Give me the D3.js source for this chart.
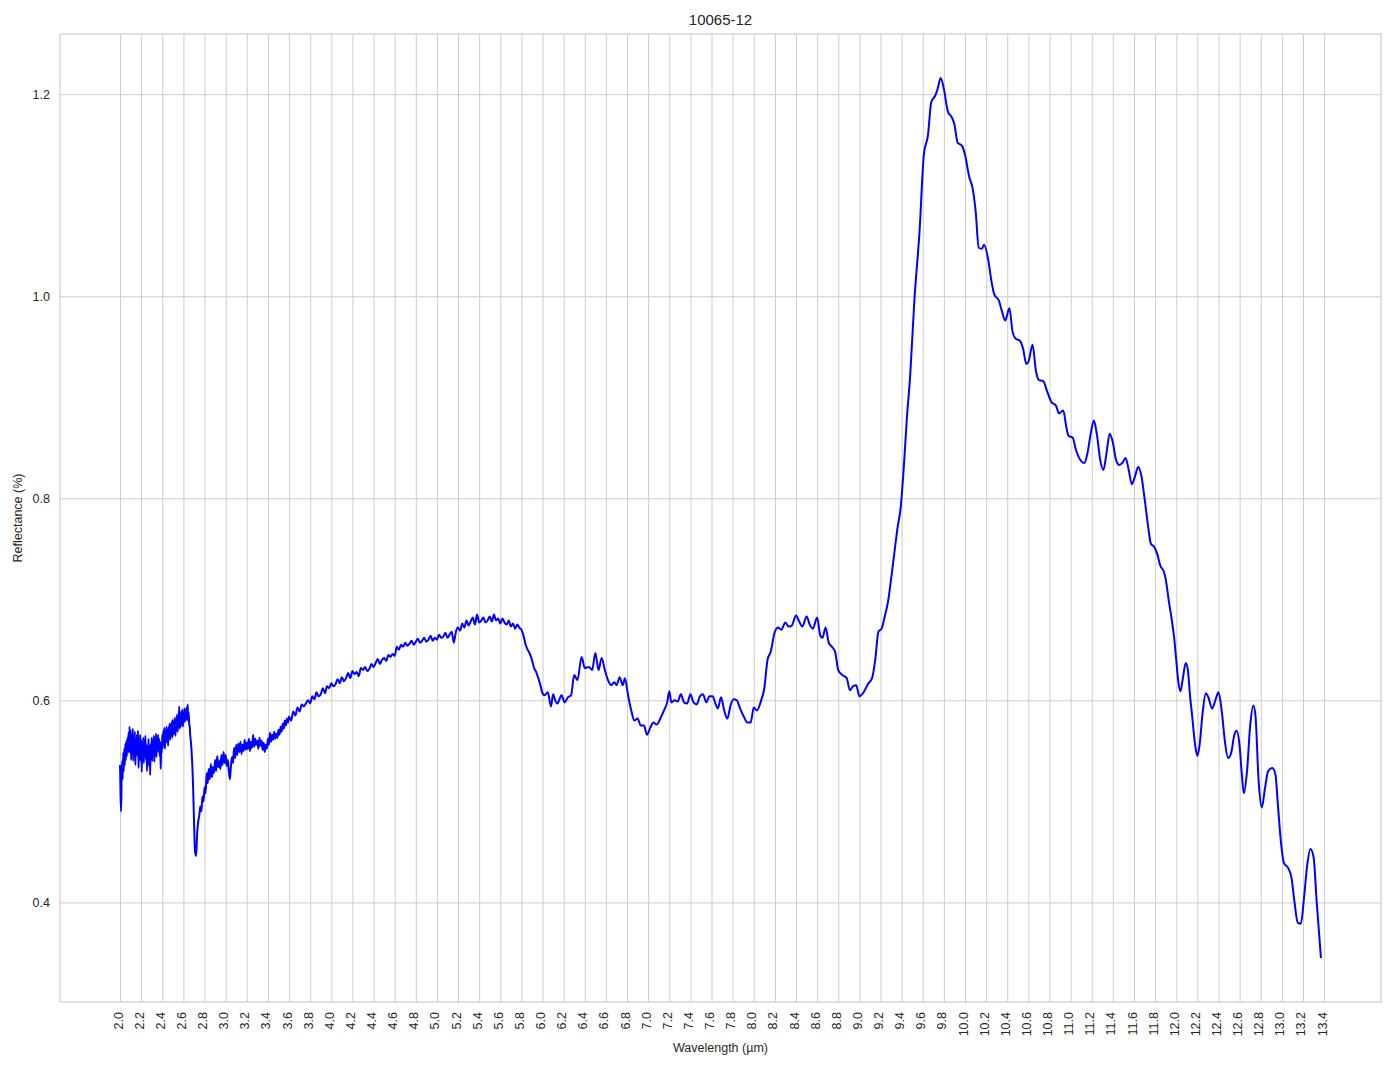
<!DOCTYPE html>
<html>
<head>
<meta charset="utf-8">
<script src="https://cdn.jsdelivr.net/npm/d3@7"></script>
<style>
  html, body { margin: 0; padding: 0; background: #ffffff; }
  svg { display: block; font-family: "Liberation Sans", Arial, "DejaVu Sans", sans-serif; }
</style>
</head>
<body>
<svg id="chart" width="1394" height="1069"></svg>
<script>
// ---- data: [wavelength µm, reflectance] ----
const title = "10065-12";
const xLabel = "Wavelength (µm)";
const yLabel = "Reflectance (%)";

const spectrumNearIR = [
  [2.000,0.536],[2.005,0.505],[2.010,0.490],[2.015,0.525],[2.020,0.540],[2.025,0.522],[2.030,0.548],[2.035,0.530],[2.040,0.552],[2.045,0.536],
  [2.050,0.557],[2.055,0.541],[2.060,0.560],[2.065,0.545],[2.070,0.563],[2.075,0.550],[2.080,0.568],[2.085,0.548],[2.090,0.574],[2.095,0.552],
  [2.100,0.570],[2.105,0.541],[2.110,0.566],[2.115,0.549],[2.120,0.572],[2.125,0.540],[2.130,0.563],[2.135,0.552],[2.140,0.569],[2.145,0.536],
  [2.150,0.560],[2.155,0.545],[2.160,0.566],[2.165,0.548],[2.170,0.570],[2.175,0.533],[2.180,0.558],[2.185,0.547],[2.190,0.566],[2.195,0.540],
  [2.200,0.561],[2.205,0.529],[2.210,0.555],[2.215,0.546],[2.220,0.563],[2.225,0.538],[2.230,0.560],[2.235,0.549],[2.240,0.565],[2.245,0.541],
  [2.250,0.556],[2.255,0.530],[2.260,0.552],[2.265,0.543],[2.270,0.562],[2.275,0.535],[2.280,0.554],[2.285,0.526],[2.290,0.557],[2.295,0.546],
  [2.300,0.563],[2.305,0.540],[2.310,0.558],[2.315,0.548],[2.320,0.565],[2.325,0.539],[2.330,0.560],[2.335,0.551],[2.340,0.567],[2.345,0.544],
  [2.350,0.563],[2.355,0.552],[2.360,0.566],[2.365,0.549],[2.370,0.562],[2.375,0.545],[2.380,0.559],[2.385,0.532],[2.390,0.555],[2.395,0.548],
  [2.400,0.566],[2.405,0.553],[2.410,0.570],[2.415,0.556],[2.420,0.573],[2.425,0.552],[2.430,0.569],[2.435,0.558],[2.440,0.574],[2.445,0.560],
  [2.450,0.571],[2.455,0.555],[2.460,0.574],[2.465,0.562],[2.470,0.577],[2.475,0.561],[2.480,0.576],[2.485,0.565],[2.490,0.579],[2.495,0.563],
  [2.500,0.581],[2.505,0.566],[2.510,0.578],[2.515,0.568],[2.520,0.583],[2.525,0.565],[2.530,0.580],[2.535,0.571],[2.540,0.586],[2.545,0.569],
  [2.550,0.582],[2.555,0.575],[2.560,0.594],[2.565,0.572],[2.570,0.586],[2.575,0.574],[2.580,0.589],[2.585,0.576],[2.590,0.591],[2.595,0.574],
  [2.600,0.588],[2.605,0.578],[2.610,0.592],[2.615,0.579],[2.620,0.590],[2.625,0.581],[2.630,0.593],[2.635,0.580],[2.640,0.596],[2.645,0.582],
  [2.650,0.588],[2.655,0.576],[2.660,0.574],[2.665,0.565],[2.670,0.560],[2.680,0.545],[2.690,0.520],[2.700,0.482],[2.710,0.450],[2.720,0.446],
  [2.73,0.468],[2.74,0.480],[2.75,0.486],[2.76,0.495],[2.77,0.490],[2.78,0.505],[2.79,0.500],[2.80,0.514],[2.81,0.508],[2.82,0.528],
  [2.83,0.518],[2.84,0.532],[2.85,0.522],[2.86,0.537],[2.87,0.524],[2.88,0.534],[2.89,0.528],[2.90,0.541],[2.91,0.530],[2.92,0.545],
  [2.93,0.534],[2.94,0.540],[2.95,0.532],[2.96,0.546],[2.97,0.536],[2.98,0.549],[2.99,0.538],[3.00,0.546],[3.01,0.535],[3.02,0.541],
  [3.03,0.530],[3.04,0.522],[3.05,0.535],[3.06,0.544],[3.07,0.538],[3.08,0.553],[3.09,0.543],[3.10,0.556],[3.11,0.546],[3.12,0.557],
  [3.13,0.549],[3.14,0.559],[3.15,0.547],[3.16,0.556],[3.17,0.550],[3.18,0.561],[3.19,0.551],[3.20,0.558],[3.21,0.552],[3.22,0.562],
  [3.23,0.550],[3.24,0.559],[3.25,0.553],[3.26,0.566],[3.27,0.554],[3.28,0.562],[3.29,0.556],[3.30,0.560],[3.31,0.552],[3.32,0.563],
  [3.33,0.555],[3.34,0.560],[3.35,0.551],[3.36,0.558],[3.37,0.549],[3.38,0.556],[3.39,0.552],[3.40,0.562],[3.41,0.556],[3.42,0.568],
  [3.43,0.559],[3.44,0.566],[3.45,0.561],[3.46,0.569],[3.47,0.562],[3.48,0.567],[3.49,0.563],[3.50,0.571],[3.51,0.566],[3.52,0.574],
  [3.53,0.569],[3.54,0.577],[3.55,0.572],[3.56,0.580],[3.57,0.575],[3.58,0.582],[3.59,0.578],[3.60,0.584],
  [3.62,0.580],[3.64,0.589],[3.66,0.585],[3.68,0.593],[3.70,0.589],[3.72,0.596],[3.74,0.594],[3.76,0.597],[3.78,0.600],[3.80,0.597],
  [3.82,0.604],[3.84,0.601],[3.86,0.608],[3.88,0.604],[3.90,0.606],[3.92,0.612],[3.94,0.607],[3.96,0.614],[3.98,0.612],[4.00,0.617]
];

const spectrumMidIR = [
  [4.02,0.614],[4.04,0.616],[4.06,0.621],[4.08,0.617],[4.10,0.623],[4.12,0.619],[4.14,0.622],[4.16,0.627],[4.18,0.622],[4.20,0.629],
  [4.22,0.626],[4.24,0.628],[4.26,0.624],[4.28,0.632],[4.30,0.630],[4.32,0.633],[4.34,0.629],[4.36,0.631],[4.38,0.636],[4.40,0.633],
  [4.42,0.637],[4.44,0.641],[4.46,0.636],[4.48,0.640],[4.50,0.642],[4.52,0.639],[4.54,0.645],[4.56,0.643],[4.58,0.646],[4.60,0.644],
  [4.62,0.653],[4.64,0.650],[4.66,0.655],[4.68,0.653],[4.70,0.657],[4.72,0.654],[4.74,0.656],[4.76,0.659],[4.78,0.655],[4.80,0.658],
  [4.82,0.661],[4.84,0.657],[4.86,0.659],[4.88,0.662],[4.90,0.658],[4.92,0.660],[4.94,0.664],[4.96,0.659],[4.98,0.662],[5.00,0.660],
  [5.02,0.665],[5.04,0.662],[5.06,0.663],[5.08,0.667],[5.10,0.662],[5.12,0.665],[5.14,0.668],[5.16,0.657],[5.18,0.668],[5.20,0.672],
  [5.22,0.669],[5.24,0.676],[5.26,0.672],[5.28,0.679],[5.30,0.674],[5.32,0.678],[5.34,0.682],[5.36,0.675],[5.38,0.685],[5.40,0.677],
  [5.42,0.679],[5.44,0.682],[5.46,0.677],[5.48,0.679],[5.50,0.683],[5.52,0.678],[5.54,0.685],[5.56,0.679],[5.58,0.681],[5.60,0.676],
  [5.62,0.681],[5.64,0.677],[5.66,0.675],[5.68,0.679],[5.70,0.673],[5.72,0.676],[5.74,0.671],[5.76,0.675],[5.78,0.672],[5.80,0.670],
  [5.82,0.664],[5.84,0.655],[5.86,0.650],[5.88,0.646],[5.90,0.640],[5.92,0.632],[5.94,0.628],[5.96,0.622],[5.98,0.615],[6.00,0.607]
];

const spectrumThermalIR = [
  [6.02,0.605],[6.05,0.608],[6.08,0.594],[6.10,0.606],[6.12,0.600],[6.14,0.597],[6.18,0.605],[6.21,0.598],[6.24,0.603],[6.27,0.605],
  [6.30,0.625],[6.33,0.620],[6.37,0.643],[6.40,0.632],[6.44,0.633],[6.47,0.630],[6.50,0.647],[6.53,0.630],[6.56,0.642],[6.59,0.630],
  [6.62,0.620],[6.65,0.615],[6.68,0.618],[6.70,0.615],[6.73,0.623],[6.76,0.615],[6.78,0.622],[6.81,0.605],[6.84,0.590],[6.87,0.580],
  [6.90,0.582],[6.93,0.575],[6.96,0.575],[6.99,0.566],[7.02,0.573],[7.05,0.578],[7.08,0.576],[7.12,0.583],[7.15,0.590],[7.18,0.598],
  [7.20,0.609],[7.22,0.598],[7.25,0.600],[7.28,0.599],[7.31,0.606],[7.34,0.598],[7.37,0.597],[7.40,0.606],[7.43,0.598],[7.46,0.596],
  [7.49,0.604],[7.52,0.606],[7.55,0.598],[7.58,0.604],[7.61,0.604],[7.64,0.596],[7.66,0.592],[7.69,0.603],[7.72,0.590],[7.75,0.582],
  [7.78,0.595],[7.81,0.601],[7.84,0.600],[7.87,0.592],[7.91,0.583],[7.94,0.578],[7.97,0.578],[8.00,0.593],[8.03,0.590],[8.07,0.600],
  [8.10,0.612],[8.13,0.640],[8.16,0.648],[8.20,0.668],[8.23,0.672],[8.26,0.670],[8.30,0.677],[8.33,0.673],[8.36,0.674],[8.40,0.684],
  [8.43,0.678],[8.46,0.673],[8.50,0.683],[8.53,0.675],[8.56,0.671],[8.60,0.682],[8.63,0.664],[8.65,0.662],[8.68,0.672],[8.71,0.657],
  [8.74,0.653],[8.77,0.648],[8.80,0.630],[8.84,0.625],[8.88,0.622],[8.91,0.610],[8.94,0.614],[8.97,0.615],[9.00,0.604],[9.04,0.608],
  [9.08,0.616],[9.12,0.622],[9.15,0.640],[9.18,0.668],[9.21,0.671],[9.24,0.683],[9.27,0.697],[9.30,0.720],[9.33,0.745],[9.36,0.770],
  [9.39,0.790],[9.42,0.830],[9.45,0.880],[9.48,0.920],[9.52,0.995],[9.57,1.065],[9.61,1.140],[9.65,1.160],[9.68,1.192],[9.72,1.199],
  [9.74,1.205],[9.77,1.216],[9.80,1.205],[9.84,1.182],[9.87,1.178],[9.90,1.170],[9.93,1.152],[9.97,1.149],[10.00,1.140],[10.04,1.118],
  [10.07,1.108],[10.10,1.085],[10.13,1.048],[10.16,1.047],[10.18,1.051],[10.22,1.036],[10.25,1.015],[10.28,1.001],[10.32,0.996],[10.35,0.985],
  [10.38,0.976],[10.42,0.988],[10.45,0.965],[10.48,0.958],[10.52,0.956],[10.55,0.948],[10.58,0.933],[10.60,0.935],[10.64,0.952],[10.67,0.927],
  [10.70,0.917],[10.74,0.916],[10.78,0.905],[10.82,0.895],[10.86,0.892],[10.89,0.884],[10.93,0.887],[10.96,0.870],[10.98,0.862],[11.02,0.860],
  [11.05,0.848],[11.08,0.840],[11.13,0.835],[11.16,0.845],[11.19,0.864],[11.22,0.877],[11.25,0.862],[11.28,0.838],[11.31,0.828],[11.34,0.845],
  [11.37,0.864],[11.40,0.855],[11.43,0.838],[11.46,0.833],[11.49,0.835],[11.52,0.840],[11.55,0.828],[11.58,0.814],[11.61,0.822],[11.64,0.831],
  [11.67,0.822],[11.70,0.800],[11.73,0.775],[11.76,0.755],[11.79,0.752],[11.82,0.745],[11.85,0.733],[11.88,0.728],[11.90,0.720],[11.93,0.698],
  [11.96,0.678],[11.98,0.662],[12.00,0.640],[12.02,0.618],[12.04,0.609],[12.06,0.620],[12.09,0.637],[12.11,0.630],[12.13,0.605],[12.15,0.585],
  [12.18,0.555],[12.20,0.545],[12.22,0.555],[12.25,0.588],[12.28,0.607],[12.30,0.604],[12.34,0.592],[12.37,0.600],[12.40,0.608],[12.43,0.590],
  [12.46,0.560],[12.49,0.543],[12.52,0.548],[12.55,0.566],[12.57,0.570],[12.60,0.555],[12.62,0.528],[12.64,0.508],[12.67,0.530],[12.70,0.575],
  [12.73,0.595],[12.75,0.585],[12.78,0.520],[12.81,0.494],[12.84,0.513],[12.87,0.530],[12.91,0.533],[12.94,0.526],[12.96,0.500],[12.99,0.461],
  [13.02,0.439],[13.06,0.434],[13.09,0.425],[13.12,0.400],[13.15,0.380],[13.18,0.379],[13.21,0.405],[13.24,0.437],[13.27,0.453],[13.30,0.445],
  [13.33,0.400],[13.37,0.345]
];

const xTickValues = ["2.0","2.2","2.4","2.6","2.8","3.0","3.2","3.4","3.6","3.8","4.0","4.2","4.4","4.6","4.8","5.0","5.2","5.4","5.6","5.8",
  "6.0","6.2","6.4","6.6","6.8","7.0","7.2","7.4","7.6","7.8","8.0","8.2","8.4","8.6","8.8","9.0","9.2","9.4","9.6","9.8",
  "10.0","10.2","10.4","10.6","10.8","11.0","11.2","11.4","11.6","11.8","12.0","12.2","12.4","12.6","12.8","13.0","13.2","13.4"];
const yTickValues = ["0.4","0.6","0.8","1.0","1.2"];

// ---- drawing ----
const data = spectrumNearIR.concat(spectrumMidIR, spectrumThermalIR);
const W = 1394, H = 1069;
const plot = { left: 60, right: 1381, top: 34, bottom: 1002 };

const xMin = d3.min(data, d => d[0]), xMax = d3.max(data, d => d[0]);
const yMin = d3.min(data, d => d[1]), yMax = d3.max(data, d => d[1]);
const xPad = (xMax - xMin) * 0.05, yPad = (yMax - yMin) * 0.05;

const x = d3.scaleLinear().domain([xMin - xPad, xMax + xPad]).range([plot.left, plot.right]);
const y = d3.scaleLinear().domain([yMin - yPad, yMax + yPad]).range([plot.bottom, plot.top]);

const svg = d3.select("#chart");
svg.append("rect").attr("width", W).attr("height", H).attr("fill", "#ffffff");

const gridColor = "#cccccc";
const textColor = "#262626";

const xAxis = d3.axisBottom(x)
  .tickValues(xTickValues.map(Number))
  .tickSize(-(plot.bottom - plot.top))
  .tickFormat(d3.format(".1f"));
const gx = svg.append("g").attr("transform", `translate(0,${plot.bottom})`).call(xAxis);
gx.select(".domain").remove();
gx.selectAll(".tick line").attr("stroke", gridColor).attr("stroke-width", 1);
gx.selectAll(".tick text")
  .attr("fill", textColor)
  .style("font-size", "12.5px")
  .attr("transform", "rotate(-90)")
  .attr("text-anchor", "end")
  .attr("dominant-baseline", "central")
  .attr("x", -10)
  .attr("y", -2)
  .attr("dy", null);

const yAxis = d3.axisLeft(y)
  .tickValues(yTickValues.map(Number))
  .tickSize(-(plot.right - plot.left))
  .tickFormat(d3.format(".1f"));
const gy = svg.append("g").attr("transform", `translate(${plot.left},0)`).call(yAxis);
gy.select(".domain").remove();
gy.selectAll(".tick line").attr("stroke", gridColor).attr("stroke-width", 1);
gy.selectAll(".tick text")
  .attr("fill", textColor)
  .style("font-size", "12.5px")
  .attr("x", -10)
  .attr("dy", "0.35em");

svg.append("rect")
  .attr("x", plot.left).attr("y", plot.top)
  .attr("width", plot.right - plot.left).attr("height", plot.bottom - plot.top)
  .attr("fill", "none").attr("stroke", gridColor).attr("stroke-width", 1.2);

const line = d3.line().x(d => x(d[0])).y(d => y(d[1])).curve(d3.curveMonotoneX);
svg.append("path")
  .datum(data)
  .attr("fill", "none")
  .attr("stroke", "#0000ff")
  .attr("stroke-width", 2)
  .attr("stroke-linejoin", "round")
  .attr("d", line);

svg.append("text").attr("x", (plot.left + plot.right) / 2).attr("y", 25)
  .attr("text-anchor", "middle").attr("fill", textColor)
  .style("font-size", "15px").text(title);
svg.append("text").attr("x", (plot.left + plot.right) / 2).attr("y", 1052)
  .attr("text-anchor", "middle").attr("fill", textColor)
  .style("font-size", "12.5px").text(xLabel);
svg.append("text")
  .attr("transform", `translate(22,${(plot.top + plot.bottom) / 2}) rotate(-90)`)
  .attr("text-anchor", "middle").attr("fill", textColor)
  .style("font-size", "12.5px").text(yLabel);
</script>
</body>
</html>
